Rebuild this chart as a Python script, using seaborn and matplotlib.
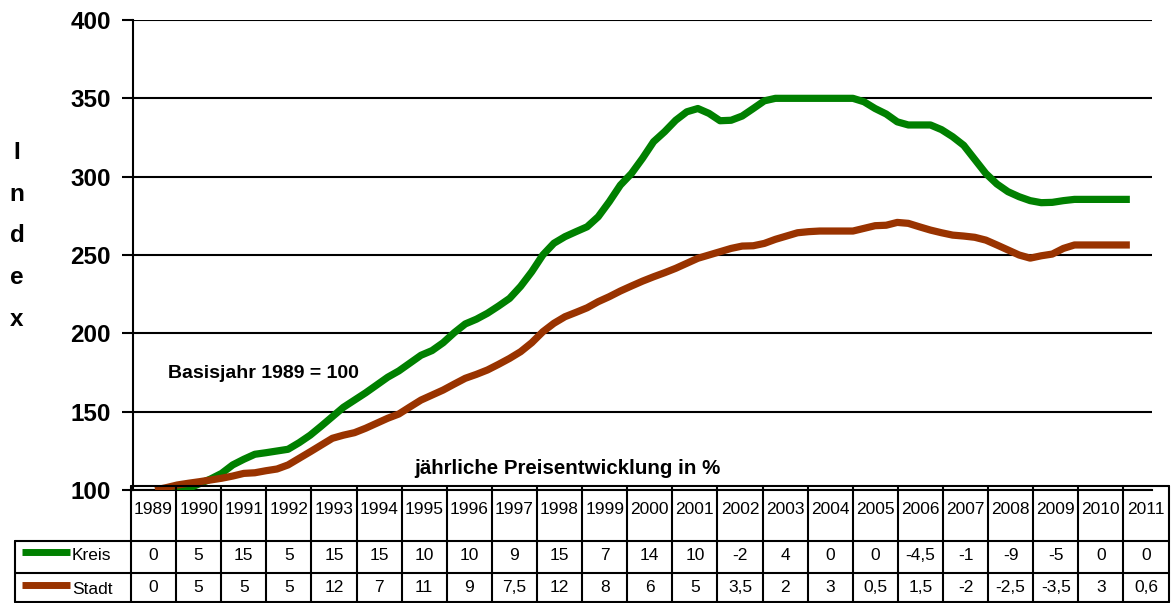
import numpy as np
import pandas as pd
import matplotlib
matplotlib.use("Agg")
import matplotlib.pyplot as plt
import seaborn as sns

# jahre der tabelle
jahre = list(range(1989, 2012))

# jaehrliche preisentwicklung in % (tabelle unten)
kreis_pct = [0, 5, 15, 5, 15, 15, 10, 10, 9, 15, 7, 14, 10, -2, 4, 0, 0, -4.5, -1, -9, -5, 0, 0]
stadt_pct = [0, 5, 5, 5, 12, 7, 11, 9, 7.5, 12, 8, 6, 5, 3.5, 2, 3, 0.5, 1.5, -2, -2.5, -3.5, 3, 0.6]

kreis_index = [
    100, 100, 100, 101,            # 1989
    104, 107, 110.6, 116,          # 1990
    119.6, 122.8, 123.8, 124.9,    # 1991
    126, 130.2, 135, 140.8,        # 1992
    146.8, 152.8, 157.4, 162,      # 1993
    167, 172, 176, 181,            # 1994
    186, 189, 194, 200.4,          # 1995
    206, 209, 212.8, 217.4,        # 1996
    222.3, 230, 239.3, 250,        # 1997
    257.5, 261.7, 264.9, 268,      # 1998
    274.4, 284, 294.6, 302,        # 1999
    311.7, 322.3, 328.7, 336,      # 2000
    341.4, 343.5, 340.4, 335.7,    # 2001
    336, 338.7, 343.5, 348.4,      # 2002
    350, 350, 350, 350,            # 2003
    350, 350, 350, 350,            # 2004
    347.8, 343.5, 340, 335,        # 2005
    333, 333, 333, 330,            # 2006
    325.5, 320, 311, 302,          # 2007
    295.3, 290.4, 287.2, 284.7,    # 2008
    283.4, 283.6, 284.7, 285.5,    # 2009
    285.5, 285.5, 285.5, 285.5,    # 2010
    285.5,                         # 2011
]
stadt_index = [
    100, 101.5, 103.2, 104.3,
    105.3, 106.4, 107.5, 108.9,
    110.6, 111, 112.3, 113.4,
    116, 120.2, 124.4, 128.7,
    133, 135, 136.6, 139.4,
    142.6, 145.8, 148.5, 153,
    157.4, 160.6, 163.8, 167.6,
    171.3, 173.8, 176.6, 180.2,
    184, 188.3, 194, 201,
    206.4, 210.6, 213.4, 216.3,
    220.2, 223.4, 227, 230.2,
    233.3, 236.1, 238.7, 241.5,
    244.7, 247.9, 250, 252.1,
    254.2, 255.7, 255.9, 257.4,
    260, 262.1, 264.2, 264.9,
    265.3, 265.3, 265.3, 265.3,
    267, 268.7, 269, 270.8,
    270.2, 268, 265.9, 264.2,
    262.7, 262.1, 261.3, 259.5,
    256.4, 253.2, 250, 248,
    249.5, 250.6, 254.2, 256.4,
    256.4, 256.4, 256.4, 256.4,
    256.4,
]

farben = {"Kreis": "#008000", "Stadt": "#993300"}

# datenrahmen im long-format fuer seaborn
zeit = jahre[0] + np.arange(len(kreis_index)) / 4
df = pd.concat([
    pd.DataFrame({"Jahr": zeit, "Index": kreis_index, "Gebiet": "Kreis"}),
    pd.DataFrame({"Jahr": zeit, "Index": stadt_index, "Gebiet": "Stadt"}),
])

sns.set_style("white")
plt.rcParams["font.family"] = ["Liberation Sans", "DejaVu Sans"]
plt.rcParams["text.color"] = "black"
plt.rcParams["axes.labelcolor"] = "black"
plt.rcParams["ytick.color"] = "black"
plt.rcParams["xtick.color"] = "black"

W, H = 1173, 603
fig = plt.figure(figsize=(W / 100, H / 100), dpi=100)
ax = fig.add_axes([133 / W, 1 - 490 / H, (1152 - 133) / W, (490 - 20) / H])

sns.lineplot(data=df, x="Jahr", y="Index", hue="Gebiet", palette=farben,
             estimator=None, sort=False, lw=5.2, legend=False, ax=ax,
             solid_capstyle="butt", zorder=3)

ax.set_xlim(jahre[0] - 0.5, jahre[-1] + 0.5)
ax.set_ylim(100, 400)
ax.set_yticks(range(100, 401, 50))
ax.set_xticks([])
ax.set_xlabel("")
ax.grid(axis="y", color="black", lw=1.5)
ax.grid(axis="x", visible=False)
for s in ["top", "right"]:
    ax.spines[s].set_visible(False)
for s in ["left", "bottom"]:
    ax.spines[s].set_color("black")
    ax.spines[s].set_linewidth(1.5)
ax.tick_params(axis="y", direction="out", length=8, width=1.5, color="black",
               labelcolor="black", labelsize=17.5, pad=8, left=True)
for lbl in ax.get_yticklabels():
    lbl.set_fontweight("bold")

ax.set_ylabel("I\nn\nd\ne\nx", rotation=0, fontsize=17.5, fontweight="bold",
              linespacing=2.05, ha="center", va="center", color="black")
ax.yaxis.set_label_coords((17 - 133) / (1152 - 133), (490 - 236) / 470)

# ueberlagerte achse in pixelkoordinaten fuer texte und tabelle
tab = fig.add_axes([0, 0, 1, 1])
tab.set_xlim(0, W)
tab.set_ylim(H, 0)
tab.axis("off")

tab.text(168, 374, "Basisjahr 1989 = 100", fontsize=14, fontweight="bold",
         ha="left", va="center")
tab.text(567, 469, "jährliche Preisentwicklung in %", fontsize=14.8, fontweight="bold",
         ha="center", va="center")

# datentabelle
x0, x1 = 131, 1168.5
cw = (x1 - x0) / len(jahre)
y_top, y_kopf, y_mitte, y_unten = 486, 541, 573, 602
lw_tab = 1.5
tab.plot([x0, x1], [y_top, y_top], color="black", lw=lw_tab)
tab.plot([15, x1], [y_kopf, y_kopf], color="black", lw=lw_tab)
tab.plot([15, x1], [y_mitte, y_mitte], color="black", lw=lw_tab)
tab.plot([15, x1], [y_unten, y_unten], color="black", lw=lw_tab)
tab.plot([15, 15], [y_kopf, y_unten], color="black", lw=lw_tab)
for i in range(len(jahre) + 1):
    xe = x0 + i * cw
    tab.plot([xe, xe], [y_top, y_unten], color="black", lw=lw_tab)


def fmt(v):
    return f"{v:g}".replace(".", ",")


for i, j in enumerate(jahre):
    xc = x0 + (i + 0.5) * cw
    tab.text(xc, 510, str(j), fontsize=12.5, ha="center", va="center")
    tab.text(xc, 556, fmt(kreis_pct[i]), fontsize=12.5, ha="center", va="center")
    tab.text(xc, 588, fmt(stadt_pct[i]), fontsize=12.5, ha="center", va="center")

# legendenschluessel in der tabelle
for name, yy in [("Kreis", 552), ("Stadt", 585)]:
    tab.plot([22, 70], [yy, yy], color=farben[name], lw=5, solid_capstyle="butt")
    tab.text(72, yy + 4, name, fontsize=12.5, ha="left", va="center")

fig.savefig("out.png", dpi=100)
